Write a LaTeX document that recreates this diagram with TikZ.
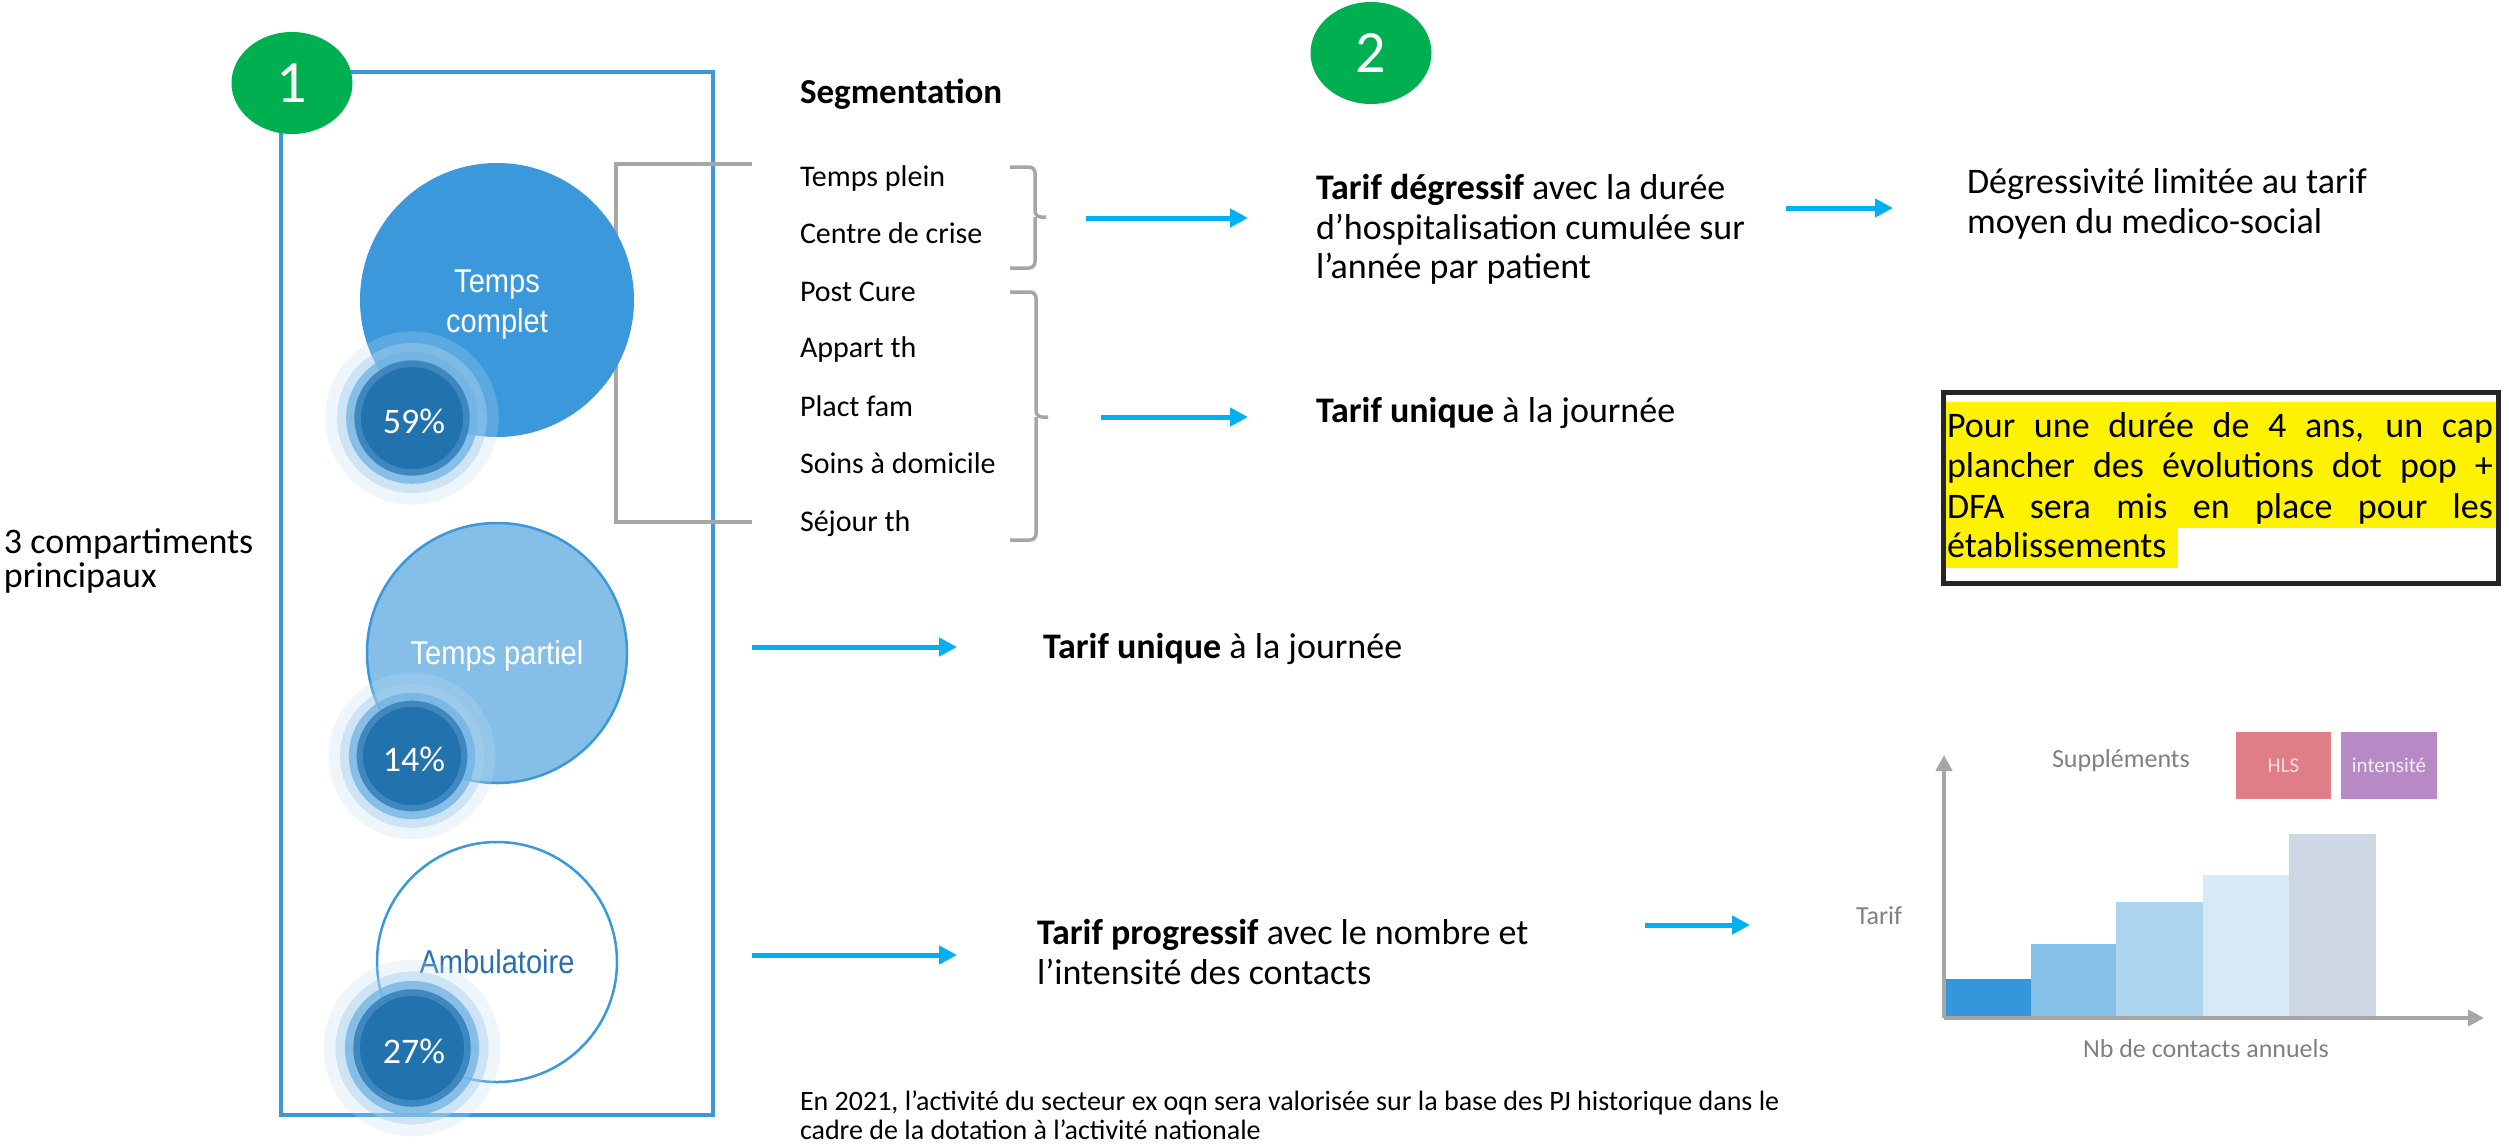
\documentclass[tikz,border=0pt]{standalone}
\usepackage{fontspec}
\setmainfont{Carlito}
\newfontfamily\arialn[FakeStretch=0.88]{Liberation Sans}
\usetikzlibrary{arrows.meta,shapes.geometric}
\definecolor{cblue}{HTML}{3A98DB}
\definecolor{lblue}{HTML}{85BFE7}
\definecolor{ambtxt}{HTML}{2A6FAF}
\definecolor{ggreen}{HTML}{00B050}
\definecolor{grayl}{HTML}{A6A6A6}
\definecolor{cyanA}{HTML}{00B0F0}
\definecolor{ringA}{HTML}{BFDCF2}
\definecolor{ringB}{HTML}{A8D0EE}
\definecolor{ringC}{HTML}{6FB2E3}
\definecolor{ringD}{HTML}{3E87BF}
\definecolor{coreC}{HTML}{2272AE}
\definecolor{barA}{HTML}{3597DB}
\definecolor{barB}{HTML}{85C0E8}
\definecolor{barC}{HTML}{AED5EF}
\definecolor{barD}{HTML}{D6E9F6}
\definecolor{barE}{HTML}{CDD8E4}
\definecolor{hlsC}{HTML}{E07E87}
\definecolor{intC}{HTML}{B78AC6}
\definecolor{chartTxt}{HTML}{808080}
\definecolor{boxLine}{HTML}{262626}
\newcommand\fsz[2]{\fontsize{#1}{#2}\selectfont}
\newcommand\badge[5]{%
  \fill[ringA,opacity=.25] (#2,#3) circle[radius=#5pt*1.7];
  \fill[ringB,opacity=.45] (#2,#3) circle[radius=#5pt*1.47];
  \fill[ringC,opacity=.75] (#2,#3) circle[radius=#5pt*1.29];
  \fill[ringD] (#2,#3) circle[radius=#5pt*1.13];
  \fill[coreC] (#2,#3) circle[radius=#5pt];
  \node[anchor=base,text=white,font=\fsz{36}{40}] (#1) at (#2+2,#3+15) {#4};}
\begin{document}
\begin{tikzpicture}[x=1pt,y=-1pt,
  every node/.style={inner sep=0pt,outer sep=0pt},
  txt/.style={anchor=base west,font=\fsz{36}{40}},
  segitem/.style={anchor=base west,font=\fsz{30}{36}},
  circlbl/.style={anchor=base,font=\arialn\fsz{33}{40}},
  arr/.style={draw=cyanA,line width=5pt,-{Triangle[length=18pt,width=18pt]}},
  brk/.style={draw=grayl,line width=4pt},
  brace/.style={draw=grayl,line width=3.5pt,rounded corners=6pt},
  axis/.style={draw=grayl,line width=4pt,-{Triangle[length=16pt,width=16pt]}},
  charttext/.style={anchor=base west,text=chartTxt,font=\fsz{26}{30}},
  marker/.style={ellipse,fill=ggreen,minimum width=121pt,minimum height=102pt,text=white,font=\fsz{60}{64}}]
\useasboundingbox (0,0) rectangle (2509,1146);
\fill[white] (0,0) rectangle (2509,1146);

% frame 1
\draw[cblue,line width=4pt] (281,72) rectangle (713,1115);

% gray bracket
\coordinate (bkTop) at (752,164);
\coordinate (bkBot) at (752,522);
\draw[brk] (bkTop) -- (616,164) -- (616,522) -- (bkBot);

% circles
\node[circle,fill=cblue,minimum size=274pt] (tc) at (497,300) {};
\node[circle,fill=lblue,draw=cblue,line width=2.5pt,minimum size=260pt] (tp) at (497,653) {};
\node[circle,fill=white,draw=cblue,line width=2.5pt,minimum size=240pt] (amb) at (497,962) {};

\node[circlbl,text=white] (tc1) at (497,292) {Temps};
\node[circlbl,text=white] (tc2) at (497,332) {complet};
\node[circlbl,text=white] (tpl) at (497,664) {Temps partiel};
\node[circlbl,text=ambtxt] (ambl) at (497,973) {Ambulatoire};

\badge{b59}{412}{418}{59\%}{51}
\badge{b14}{412}{756}{14\%}{49}
\badge{b27}{412}{1048}{27\%}{52}

% green markers
\node[marker] (g1) at (292,83) {1};
\node[marker] (g2) at (1371,53) {2};

% left label
\node[txt] (lab1) at (4,553) {3 compartiments};
\node[txt] (lab2) at (4,587) {principaux};

% segmentation
\node[anchor=base west,font=\bfseries\fsz{35}{40}] (seg) at (800,103) {Segmentation};
\node[segitem] (s1) at (800,186) {Temps plein};
\node[segitem] (s2) at (800,243) {Centre de crise};
\node[segitem] (s3) at (800,301) {Post Cure};
\node[segitem] (s4) at (800,357) {Appart th};
\node[segitem] (s5) at (800,416) {Plact fam};
\node[segitem] (s6) at (800,473) {Soins à domicile};
\node[segitem] (s7) at (800,531) {Séjour th};

% braces
\draw[brace] (1010,167) -- (1035,167) -- (1035,217) -- (1046,217);
\draw[brace] (1010,268) -- (1035,268) -- (1035,217);
\draw[brace] (1010,292) -- (1036,292) -- (1036,417) -- (1048,417);
\draw[brace] (1010,540) -- (1036,540) -- (1036,417);

% arrows
\coordinate (a1s) at (1086,218); \coordinate (a1e) at (1248,218);
\coordinate (a2s) at (1101,417); \coordinate (a2e) at (1248,417);
\coordinate (a3s) at (1786,208); \coordinate (a3e) at (1893,208);
\coordinate (a4s) at (752,647);  \coordinate (a4e) at (957,647);
\coordinate (a5s) at (752,955);  \coordinate (a5e) at (957,955);
\coordinate (a6s) at (1645,925); \coordinate (a6e) at (1750,925);
\draw[arr] (a1s) -- (a1e);
\draw[arr] (a2s) -- (a2e);
\draw[arr] (a3s) -- (a3e);
\draw[arr] (a4s) -- (a4e);
\draw[arr] (a5s) -- (a5e);
\draw[arr] (a6s) -- (a6e);

% right texts
\node[txt] (d1) at (1316,199) {\textbf{Tarif dégressif} avec la durée};
\node[txt] (d2) at (1316,239) {d’hospitalisation cumulée sur};
\node[txt] (d3) at (1316,278) {l’année par patient};
\node[txt] (u1) at (1316,422) {\textbf{Tarif unique} à la journée};
\node[txt] (m1) at (1967,193) {Dégressivité limitée au tarif};
\node[txt] (m2) at (1967,233) {moyen du medico-social};
\node[txt] (u2) at (1043,658) {\textbf{Tarif unique} à la journée};
\node[txt] (p1) at (1037,944) {\textbf{Tarif progressif} avec le nombre et};
\node[txt] (p2) at (1037,984) {l’intensité des contacts};

% yellow box
\fill[yellow] (1945,402) rectangle (2500,528);
\fill[yellow] (1945,528) rectangle (2178,568);
\draw[boxLine,line width=5pt] (1943,392) rectangle (2498,583);
\node[txt] (y1) at (1947,437) {\makebox[546pt][s]{Pour une durée de 4 ans, un cap}};
\node[txt] (y2) at (1947,477) {\makebox[546pt][s]{plancher des évolutions dot pop +}};
\node[txt] (y3) at (1947,518) {\makebox[546pt][s]{DFA sera mis en place pour les}};
\node[txt] (y4) at (1947,557) {établissements};

% chart
\fill[barA] (1946,979) rectangle (2031,1017);
\fill[barB] (2031,944) rectangle (2116,1017);
\fill[barC] (2116,902) rectangle (2203,1017);
\fill[barD] (2203,875) rectangle (2289,1017);
\fill[barE] (2289,834) rectangle (2376,1017);
\coordinate (orig) at (1944,1018);
\coordinate (ytip) at (1944,755);
\coordinate (xtip) at (2484,1018);
\draw[axis] (orig) -- (ytip);
\draw[axis] (orig) -- (xtip);
\node[charttext] (tarif) at (1856,924) {Tarif};
\node[charttext] (supp) at (2052,767) {Suppléments};
\node[charttext] (nbc) at (2083,1057) {Nb de contacts annuels};
\node[fill=hlsC,minimum width=95pt,minimum height=67pt,text=white,text opacity=.75,font=\fsz{21}{24}] (hls) at (2283.5,765.5) {HLS};
\node[fill=intC,minimum width=96pt,minimum height=67pt,text=white,text opacity=.85,font=\fsz{21}{24}] (ints) at (2389,765.5) {intensité};

% bottom text
\node[anchor=base west,font=\fsz{28}{30}] (bt1) at (800,1110) {En 2021, l’activité du secteur ex oqn sera valorisée sur la base des PJ historique dans le};
\node[anchor=base west,font=\fsz{28}{30}] (bt2) at (800,1139) {cadre de la dotation à l’activité nationale};
\end{tikzpicture}
\end{document}
